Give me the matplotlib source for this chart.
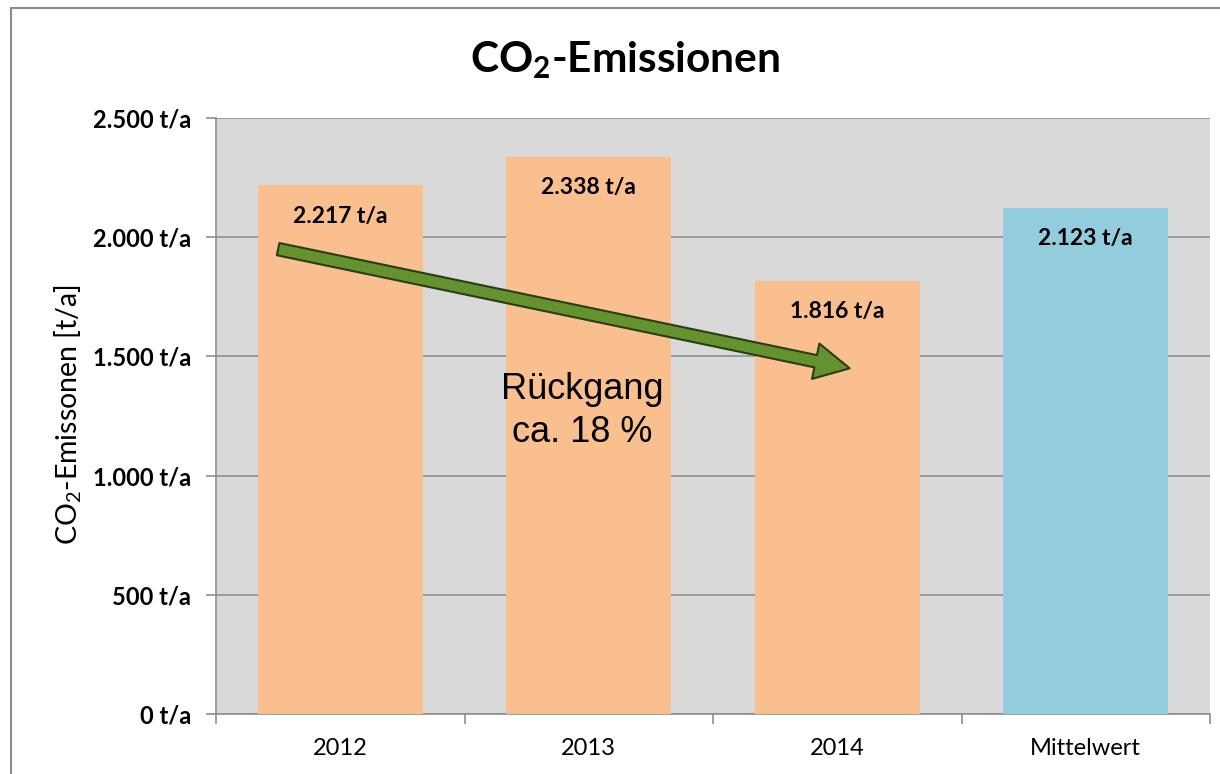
import matplotlib
matplotlib.use("Agg")
import matplotlib.pyplot as plt
from matplotlib.patches import Rectangle
from matplotlib.ticker import FixedLocator

plt.rcParams['font.family'] = ['Lato', 'DejaVu Sans']
plt.rcParams['mathtext.fontset'] = 'custom'
plt.rcParams['mathtext.rm'] = 'Lato'
plt.rcParams['mathtext.bf'] = 'Lato:bold'

categories = ['2012', '2013', '2014', 'Mittelwert']
values = [2217, 2338, 1816, 2123]
value_labels = ['2.217 t/a', '2.338 t/a', '1.816 t/a', '2.123 t/a']
bar_colors = ['#f9bf8f', '#f9bf8f', '#f9bf8f', '#93cddd']
yticks = [0, 500, 1000, 1500, 2000, 2500]
ytick_labels = ['0 t/a', '500 t/a', '1.000 t/a', '1.500 t/a', '2.000 t/a', '2.500 t/a']
arrow_start = (-0.25, 1950)
arrow_end = (2.05, 1450)
note_text = 'Rückgang\nca. 18 %'
note_pos = (0.975, 1270)

fig = plt.figure(figsize=(12.2, 7.74), dpi=100)
ax = fig.add_axes([216/1220, 1 - 714/774, (1210-216)/1220, (714-118)/774])

# figure border
fig.patches.append(Rectangle((11/1220, -0.05), 1.2, 1 - 8/774 + 0.05,
                             transform=fig.transFigure, fill=False,
                             ec='#8c8c8c', lw=1.5))

ax.set_facecolor('#d9d9d9')
x = list(range(len(categories)))
ax.bar(x, values, width=0.665, color=bar_colors, zorder=3)
ax.set_xlim(-0.5, len(categories) - 0.5)
ax.set_ylim(0, 2500)

ax.yaxis.grid(True, color='#8f8f8f', lw=1.2, zorder=1)
ax.set_axisbelow(True)

ax.set_yticks(yticks)
ax.set_yticklabels(ytick_labels, fontweight='bold', fontsize=17)
ax.tick_params(axis='y', length=7, width=1.2, color='#8f8f8f', pad=11)

ax.set_xticks(x)
ax.set_xticklabels(categories, fontsize=17)
ax.tick_params(axis='x', which='major', length=0, pad=17)
ax.xaxis.set_minor_locator(FixedLocator([i + 0.5 for i in range(-1, len(categories))]))
ax.tick_params(axis='x', which='minor', length=7, width=1.2, color='#8f8f8f')

for s in ['top', 'right']:
    ax.spines[s].set_visible(False)
for s in ['left', 'bottom']:
    ax.spines[s].set_color('#8f8f8f')
    ax.spines[s].set_linewidth(1.2)

for xi, v, lab in zip(x, values, value_labels):
    ax.annotate(lab, (xi, v), xytext=(0, -22), textcoords='offset points',
                ha='center', va='center', fontsize=16.5, fontweight='bold', zorder=5)

ax.annotate('', xy=arrow_end, xytext=arrow_start,
            arrowprops=dict(arrowstyle='simple,tail_width=0.45,head_width=1.3,head_length=1.25',
                            mutation_scale=20, fc='#64922f', ec='#2b3d18', lw=1.5,
                            shrinkA=0, shrinkB=0), zorder=6)

ax.text(note_pos[0], note_pos[1], note_text, ha='center', va='center',
        fontsize=26, family='Liberation Sans', linespacing=1.3, zorder=6)

fig.text(625/1220, 1 - 60/774, r'CO$_\mathbf{2}$-Emissionen', ha='center', va='center',
         fontsize=30.5, fontweight='bold')
fig.text(68/1220, 1 - 415/774, r'CO$_\mathrm{2}$-Emissonen [t/a]', rotation=90,
         ha='center', va='center', fontsize=20.5)

fig.savefig('out.png', dpi=100)
